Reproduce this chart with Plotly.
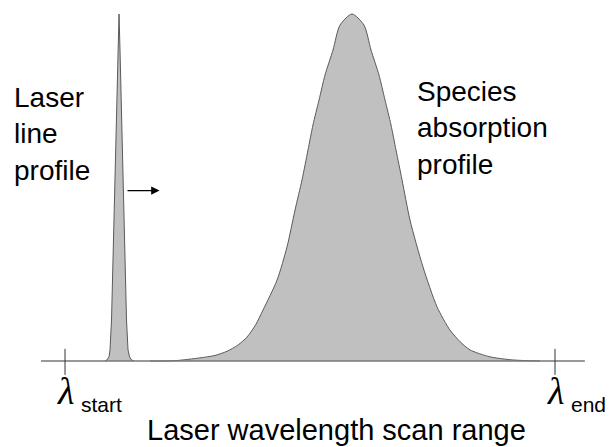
import plotly.graph_objects as go

# Wavelength axis: lambda_start = 0, lambda_end = 100 (arbitrary units); intensity normalised to 1
scan_limits = [0, 100]
scan_labels = ["start", "end"]

laser_x = [8.16, 8.57, 8.98, 9.18, 9.49, 9.86, 10.20, 10.51, 10.82, 11.02,
           11.22, 11.53, 11.84, 12.18, 12.55, 12.86, 13.16, 13.57, 14.08]
laser_y = [0.0, 0.003, 0.012, 0.032, 0.118, 0.320, 0.493, 0.695, 0.896, 1.0,
           0.896, 0.695, 0.493, 0.320, 0.118, 0.032, 0.012, 0.003, 0.0]

absorb_x = [17.35, 22.45, 27.55, 30.61, 33.06, 35.3, 37.14, 38.9, 40.41, 43.27, 45.31, 46.94,
            48.37, 49.59, 50.6, 51.84, 53.06, 54.69, 56.12, 58.57, 61.02, 62.45, 64.08, 65.31,
            66.53, 67.55, 68.78, 70.41, 73.06, 75.92, 78.57, 80.6, 82.65, 86.73, 91.43, 96.94]
absorb_y = [0.0, 0.001, 0.009, 0.016, 0.028, 0.046, 0.069, 0.104, 0.147, 0.233, 0.329, 0.435,
            0.522, 0.608, 0.680, 0.752, 0.824, 0.896, 0.968, 1.0, 0.968, 0.896, 0.824, 0.752,
            0.680, 0.608, 0.522, 0.406, 0.271, 0.156, 0.089, 0.056, 0.032, 0.012, 0.003, 0.0]

FILL = "#c0c0c0"
EDGE = "#5a5a5a"

fig = go.Figure()
fig.add_trace(go.Scatter(x=absorb_x, y=absorb_y, mode="lines", fill="tozeroy",
                         fillcolor=FILL, line=dict(color=EDGE, width=1, shape="spline", smoothing=0.7),
                         hoverinfo="skip", showlegend=False))
fig.add_trace(go.Scatter(x=laser_x, y=laser_y, mode="lines", fill="tozeroy",
                         fillcolor=FILL, line=dict(color=EDGE, width=1),
                         hoverinfo="skip", showlegend=False))

# baseline (wavelength axis)
fig.add_shape(type="line", x0=-4.9, x1=106.1, y0=0, y1=0,
              line=dict(color="#777777", width=1.6), layer="above")
for xv in scan_limits:
    fig.add_shape(type="line", x0=xv, x1=xv, y0=0.035, y1=-0.040,
                  line=dict(color="#333333", width=1), layer="above")

LAMBDA_FONT = dict(family="Liberation Serif", size=38, color="black")
SANS = "Liberation Sans, Arial, sans-serif"
for xv, lab in zip(scan_limits, scan_labels):
    fig.add_annotation(x=xv, y=-0.085, text="<i>λ</i>", showarrow=False,
                       xanchor="center", yanchor="middle", font=LAMBDA_FONT)
    fig.add_annotation(x=xv + 2.9, y=-0.125, text=lab, showarrow=False,
                       xanchor="left", yanchor="middle",
                       font=dict(family=SANS, size=21, color="black"))

fig.add_annotation(x=-10.9, y=0.654, text="Laser<br>line<br>profile", showarrow=False,
                   xanchor="left", yanchor="middle", align="left",
                   font=dict(family=SANS, size=28, color="black"))
fig.add_annotation(x=71.4, y=0.671, text="Species<br>absorption<br>profile", showarrow=False,
                   xanchor="left", yanchor="middle", align="left",
                   font=dict(family=SANS, size=28, color="black"))
fig.add_annotation(x=55.5, y=-0.199, text="Laser wavelength scan range", showarrow=False,
                   xanchor="center", yanchor="middle",
                   font=dict(family=SANS, size=29, color="black"))

# arrow indicating scan direction
fig.add_annotation(x=19.3, y=0.491, ax=12.45, ay=0.491, axref="x", ayref="y",
                   xref="x", yref="y", text="", showarrow=True,
                   arrowhead=2, arrowsize=1.4, arrowwidth=1.2, arrowcolor="black")

fig.update_layout(width=609, height=447, margin=dict(l=0, r=0, t=0, b=0),
                  paper_bgcolor="white", plot_bgcolor="white",
                  xaxis=dict(range=[-13.27, 111.02], visible=False, fixedrange=True),
                  yaxis=dict(range=[-0.2478, 1.0403], visible=False, fixedrange=True))

fig.write_html("out.html", config={"displayModeBar": False},
               post_script="document.body.style.margin='0';document.body.style.overflow='hidden';")
